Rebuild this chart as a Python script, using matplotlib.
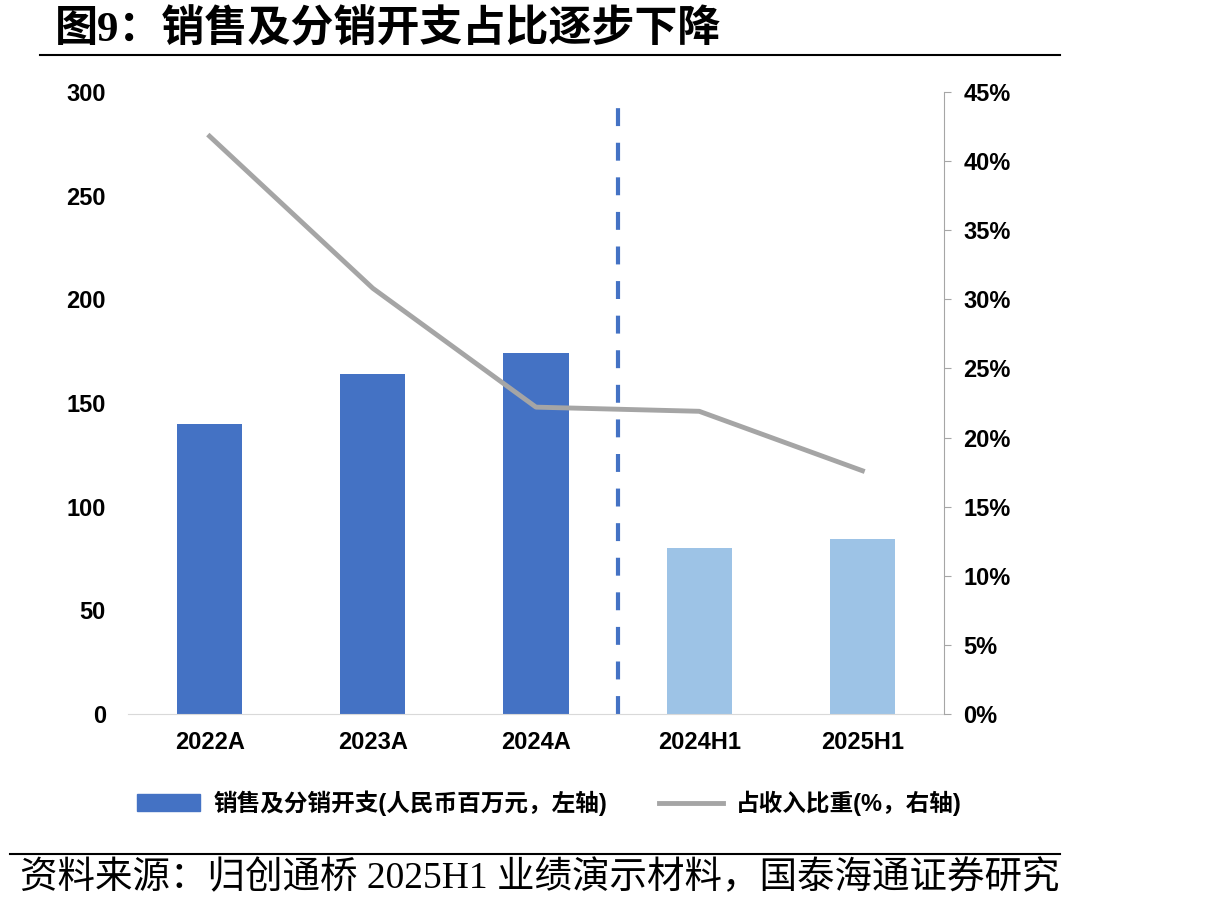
import matplotlib
matplotlib.use("Agg")
import matplotlib.pyplot as plt
from matplotlib.lines import Line2D
from matplotlib.patches import Patch
from matplotlib.ticker import FuncFormatter

categories = ["2022A", "2023A", "2024A", "2024H1", "2025H1"]
expense = [140, 164, 174, 80, 84.5]  # 人民币百万元
ratio = [41.8, 30.8, 22.2, 21.9, 17.6]  # %
bar_colors = ["#4472C4", "#4472C4", "#4472C4", "#9DC3E6", "#9DC3E6"]

title = "图9：销售及分销开支占比逐步下降"
source = "资料来源：归创通桥 2025H1 业绩演示材料，国泰海通证券研究"
bar_label = "销售及分销开支(人民币百万元，左轴)"
line_label = "占收入比重(%，右轴)"

sans_bold = ["Liberation Sans", "Noto Sans CJK SC"]
serif = ["Liberation Serif", "Noto Sans CJK SC"]

fig = plt.figure(figsize=(12.15, 9.1), dpi=100)
ax = fig.add_axes([128 / 1215, 1 - 714 / 910, (944 - 128) / 1215, (714 - 92) / 910])

x = list(range(len(categories)))
ax.bar(x, expense, width=0.4, color=bar_colors, zorder=2)
ax.set_xlim(-0.5, len(categories) - 0.5)
ax.set_ylim(0, 300)
ax.set_yticks(range(0, 301, 50))
ax.set_xticks(x)
ax.set_xticklabels(categories)

ax2 = ax.twinx()
ax2.plot(x, ratio, color="#A5A5A5", lw=3.5, zorder=3)
ax2.set_ylim(0, 45)
ax2.set_yticks(range(0, 46, 5))
ax2.yaxis.set_major_formatter(FuncFormatter(lambda v, p: f"{v:.0f}%"))

# split between annual and half-year figures
ax.axvline(2.5, ymin=0, ymax=0.982, color="#4472C4", lw=3, ls=(0, (4.3, 4)), zorder=1)

for a in (ax, ax2):
    for s in ("top", "left", "right"):
        a.spines[s].set_visible(False)
    a.spines["bottom"].set_color("#D9D9D9")
ax2.spines["right"].set_visible(True)
ax2.spines["right"].set_color("#A6A6A6")
ax2.spines["bottom"].set_visible(False)

ax.tick_params(axis="y", length=0, pad=16)
ax.tick_params(axis="x", length=0, pad=12)
ax2.tick_params(axis="y", length=5, color="#A6A6A6", pad=9)
for lbl in ax.get_xticklabels() + ax.get_yticklabels() + ax2.get_yticklabels():
    lbl.set_family(sans_bold)
    lbl.set_fontweight("bold")
    lbl.set_fontsize(17)

handles = [Patch(color="#4472C4"), Line2D([0], [0], color="#A5A5A5", lw=3.5)]
fig.legend(handles, [bar_label, line_label], loc="center", bbox_to_anchor=(0.452, 1 - 803 / 910),
           ncol=2, frameon=False, handlelength=2.7, handleheight=0.7, handletextpad=0.55,
           columnspacing=2.2, prop={"family": sans_bold, "weight": "bold", "size": 17})

fig.text(55 / 1215, 1 - 30 / 910, title, fontsize=31, fontweight="bold",
         family=["Liberation Serif", "Noto Sans CJK SC"], va="center", ha="left")
fig.add_artist(Line2D([40 / 1215, 1060 / 1215], [1 - 55 / 910] * 2, color="black", lw=1.5))
fig.add_artist(Line2D([10 / 1215, 1060 / 1215], [1 - 854 / 910] * 2, color="black", lw=1.5))
fig.text(20 / 1215, 1 - 878 / 910, source, fontsize=27, family=serif, va="center", ha="left")

fig.savefig("out.png", dpi=100)
